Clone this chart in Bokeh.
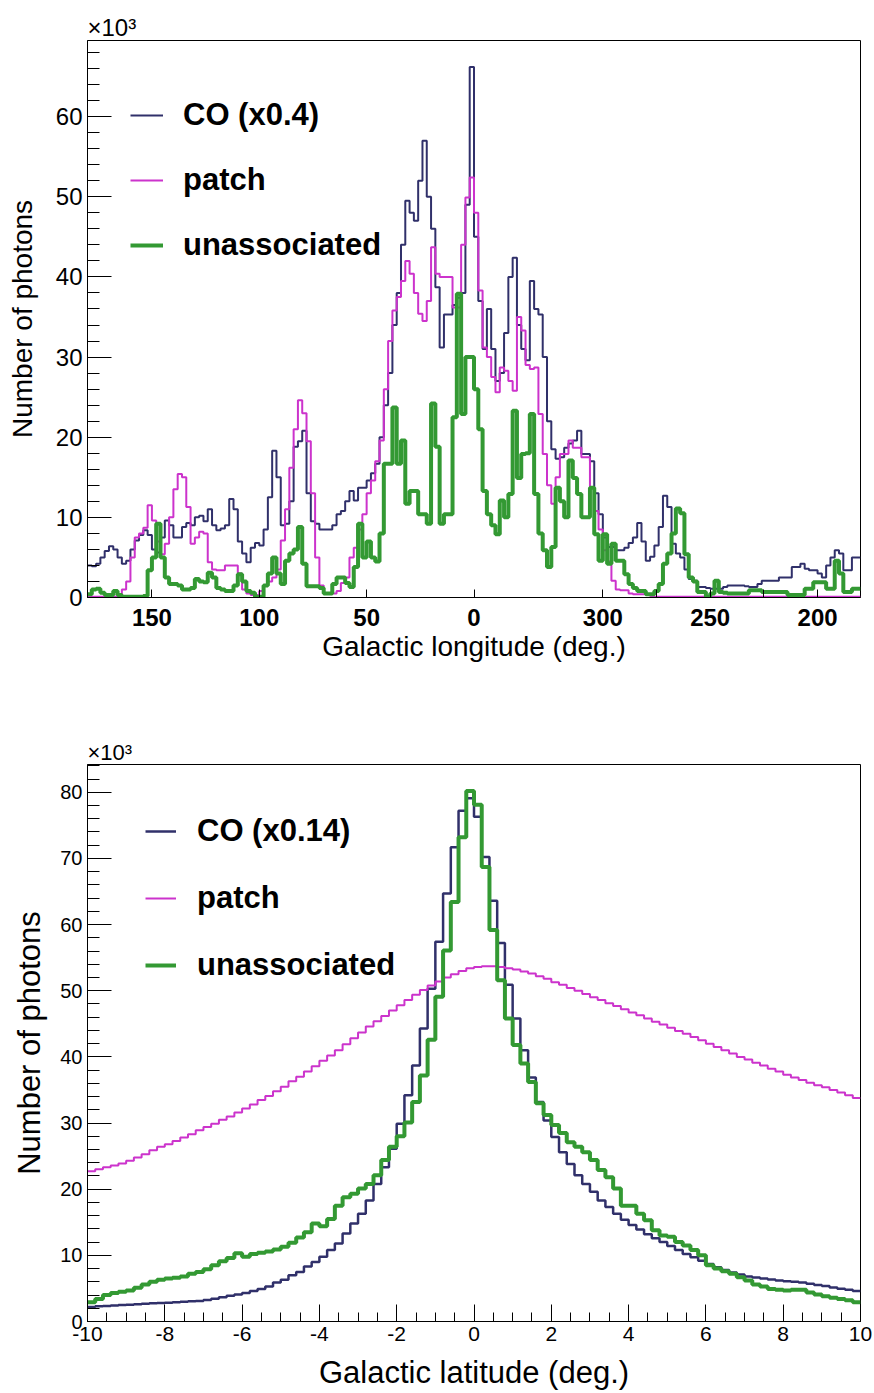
import numpy as np
from bokeh.plotting import figure
from bokeh.models import Range1d, FixedTicker, SingleIntervalTicker, Legend, LegendItem, Title
from bokeh.layouts import column
from bokeh.embed import file_html
from bokeh.resources import INLINE

# ---------------- data (thousands of photons) ----------------
# Longitude histogram: 2-degree bins running from l=180 down to l=-180 (=180)
lon_start = 180.0
lon_bin = -2.0
co_lon = [
    4.0, 3.9, 4.2, 5.0, 5.8, 6.4, 6.0, 5.0, 4.2, 4.6,
    6.0, 7.1, 7.8, 8.4, 7.8, 6.0, 5.6, 7.5, 9.6, 9.0,
    7.5, 7.5, 8.8, 9.3, 9.0, 10.0, 10.2, 9.5, 11.0, 9.0,
    8.4, 8.6, 9.0, 12.3, 11.0, 7.0, 5.5, 4.4, 6.2, 6.8,
    6.5, 8.5, 12.5, 18.3, 15.0, 9.0, 9.2, 12.0, 18.8, 19.5,
    20.8, 13.0, 9.5, 9.2, 8.5, 8.5, 8.5, 9.0, 10.4, 10.8,
    12.0, 13.3, 12.1, 13.7, 13.7, 14.6, 15.5, 16.7, 20.0, 24.0,
    28.0, 34.0, 38.0, 44.0, 49.5, 48.0, 47.0, 52.0, 57.0, 50.0,
    46.0, 38.7, 31.2, 35.3, 35.3, 36.5, 37.4, 38.0, 49.0, 66.2,
    45.0, 37.0, 31.0, 36.0, 31.0, 27.0, 28.0, 33.0, 40.0, 42.4,
    34.0, 31.0, 29.6, 39.5, 36.0, 35.3, 30.0, 22.0, 18.5, 17.3,
    17.5, 18.7, 19.2, 19.6, 20.8, 17.9, 17.9, 17.0, 13.0, 10.4,
    7.5, 6.3, 6.3, 5.9, 5.9, 6.2, 6.8, 7.5, 9.3, 7.0,
    4.6, 5.1, 6.5, 8.8, 12.7, 11.3, 6.7, 5.5, 5.0, 3.5,
    2.3, 2.1, 1.3, 1.3, 1.2, 1.1, 1.1, 1.1, 1.3, 1.5,
    1.5, 1.5, 1.5, 1.4, 1.3, 1.3, 1.7, 2.1, 2.1, 2.1,
    2.1, 2.5, 2.5, 2.5, 3.8, 3.8, 4.2, 3.6, 3.4, 3.4,
    3.0, 2.5, 4.0, 5.0, 5.9, 5.5, 3.4, 3.4, 5.0, 5.0,
]
patch_lon = [
    0.1, 0.1, 0.1, 0.1, 0.1, 0.1, 0.1, 0.1, 1.0, 2.0,
    5.0, 7.5, 8.0, 8.7, 11.5, 9.6, 7.0, 5.4, 6.7, 10.0,
    13.5, 15.4, 15.0, 11.3, 6.7, 7.5, 8.2, 8.0, 4.4, 3.5,
    3.4, 3.4, 4.0, 4.0, 4.0, 3.0, 1.0, 0.5, 0.3, 0.3,
    0.8, 1.5, 2.0, 2.5, 3.5, 7.1, 11.0, 16.2, 21.0, 24.6,
    23.0, 19.5, 13.0, 5.0, 1.5, 0.5, 0.5, 0.5, 0.8, 1.8,
    2.5, 5.0, 6.2, 8.5, 10.4, 13.0, 14.6, 17.0, 19.6, 26.0,
    32.0, 35.8, 37.5, 39.5, 42.0, 40.4, 38.0, 35.4, 34.5, 37.0,
    43.7, 40.4, 40.0, 40.0, 40.0, 36.2, 36.2, 44.0, 49.9, 52.4,
    48.0, 38.3, 31.2, 30.0, 27.5, 25.6, 28.7, 28.3, 27.0, 25.8,
    35.0, 33.3, 29.0, 28.5, 28.7, 22.9, 17.9, 14.0, 11.7, 15.0,
    17.9, 17.9, 19.6, 18.7, 18.7, 17.5, 17.5, 13.7, 10.8, 8.5,
    5.9, 4.5, 2.1, 1.0, 0.9, 0.9, 0.5, 0.4, 0.4, 0.4,
    0.3, 0.2, 0.1, 0.1, 0.1, 0.1, 0.1, 0.1, 0.1, 0.1,
    0.1, 0.1, 0.1, 0.1, 0.1, 0.1, 0.1, 0.1, 0.1, 0.1,
    0.1, 0.1, 0.1, 0.1, 0.1, 0.1, 0.1, 0.1, 0.1, 0.1,
    0.1, 0.1, 0.1, 0.1, 0.1, 0.1, 0.1, 0.1, 0.1, 0.1,
    0.1, 0.1, 0.1, 0.1, 0.1, 0.1, 0.1, 0.1, 0.1, 0.1,
]
unassoc_lon = [
    0.4, 1.0, 1.1, 0.6, 0.3, 0.3, 0.8, 0.3, 0.1, 0.1,
    0.1, 0.1, 0.1, 0.2, 3.4, 5.0, 9.2, 5.0, 2.5, 1.7,
    1.7, 1.5, 1.0, 1.0, 1.2, 2.3, 2.0, 1.9, 3.1, 2.5,
    1.2, 1.0, 0.8, 0.8, 1.5, 2.9, 2.0, 0.8, 0.6, 0.1,
    0.1, 1.5, 3.0, 5.0, 3.0, 1.7, 4.6, 5.5, 6.0, 8.8,
    4.2, 1.4, 1.4, 1.4, 1.2, 0.5, 0.5, 1.7, 2.5, 2.5,
    1.8, 1.3, 3.8, 9.2, 5.0, 7.0, 5.0, 4.5, 8.0, 16.7,
    16.7, 23.7, 16.7, 19.6, 11.7, 13.3, 13.3, 10.4, 10.4, 9.2,
    24.2, 18.8, 9.2, 10.4, 10.4, 22.5, 37.9, 22.9, 30.0, 30.0,
    26.0, 21.0, 13.3, 10.4, 9.0, 7.9, 12.1, 10.0, 12.9, 23.3,
    14.9, 17.9, 18.0, 22.9, 12.9, 8.0, 5.9, 3.8, 6.3, 13.7,
    12.0, 10.0, 17.1, 14.9, 12.9, 10.0, 10.0, 13.7, 7.9, 4.6,
    7.9, 4.2, 6.7, 4.6, 4.6, 2.9, 1.7, 1.2, 0.8, 0.8,
    0.4, 0.4, 0.8, 1.7, 4.2, 5.5, 8.0, 11.1, 10.5, 5.4,
    2.5, 2.0, 0.7, 0.7, 0.1, 0.5, 2.1, 0.7, 0.6, 0.5,
    0.5, 0.5, 0.5, 0.5, 0.9, 0.9, 0.9, 0.7, 0.7, 0.7,
    0.7, 0.7, 0.7, 0.3, 0.3, 0.3, 0.3, 1.1, 1.1, 1.9,
    1.9, 1.9, 1.1, 1.1, 4.6, 3.0, 0.7, 0.7, 1.1, 1.1,
]
lon_ticks = [150, 100, 50, 0, -60, -85, -110, -135, -160]
lon_tick_labels = ["150", "100", "50", "0", "300", "", "250", "", "200"]

# Latitude histogram: 0.2-degree bins from -10 to 10
lat_start = -10.0
lat_bin = 0.2
co_lat = [
    2.2, 2.3, 2.35, 2.4, 2.5, 2.55, 2.6, 2.7, 2.75, 2.8,
    2.85, 2.9, 3.0, 3.05, 3.1, 3.25, 3.45, 3.65, 3.9, 4.1,
    4.3, 4.6, 4.9, 5.3, 5.9, 6.3, 7.0, 7.5, 8.3, 9.0,
    9.8, 10.8, 11.8, 13.3, 14.8, 16.3, 18.3, 20.8, 23.3, 26.1,
    29.9, 34.2, 38.7, 44.3, 50.3, 57.4, 64.7, 71.7, 77.2, 79.1,
    76.3, 70.2, 63.6, 57.2, 50.9, 45.8, 41.0, 36.9, 33.2, 30.4,
    27.9, 25.6, 23.8, 22.1, 20.8, 19.6, 18.3, 17.3, 16.3, 15.4,
    14.6, 13.9, 13.2, 12.6, 12.0, 11.4, 10.8, 10.2, 9.7, 9.2,
    8.7, 8.2, 7.8, 7.4, 7.1, 6.8, 6.65, 6.5, 6.35, 6.2,
    6.1, 6.0, 5.9, 5.7, 5.5, 5.35, 5.15, 4.95, 4.8, 4.6,
]
patch_lat = [
    22.7, 23.0, 23.3, 23.6, 23.9, 24.3, 24.8, 25.3, 25.9, 26.4,
    26.8, 27.3, 27.8, 28.3, 28.9, 29.4, 29.9, 30.5, 31.0, 31.6,
    32.2, 32.8, 33.5, 34.1, 34.8, 35.5, 36.3, 37.0, 37.8, 38.6,
    39.4, 40.2, 41.0, 41.9, 42.8, 43.7, 44.6, 45.4, 46.2, 47.0,
    47.8, 48.6, 49.4, 50.1, 50.8, 51.4, 52.0, 52.5, 53.0, 53.4,
    53.6, 53.7, 53.7, 53.6, 53.4, 53.2, 52.9, 52.6, 52.2, 51.8,
    51.3, 50.9, 50.4, 50.0, 49.5, 49.0, 48.6, 48.1, 47.7, 47.2,
    46.7, 46.3, 45.8, 45.3, 44.9, 44.4, 43.9, 43.5, 43.0, 42.5,
    42.0, 41.5, 41.0, 40.5, 40.0, 39.6, 39.1, 38.7, 38.2, 37.8,
    37.3, 36.9, 36.5, 36.1, 35.7, 35.4, 35.0, 34.6, 34.2, 33.8,
]
unassoc_lat = [
    2.9, 3.4, 4.0, 4.3, 4.5, 4.7, 5.1, 5.6, 6.0, 6.3,
    6.5, 6.6, 6.8, 7.2, 7.5, 7.9, 8.5, 9.1, 9.6, 10.3,
    9.8, 10.2, 10.4, 10.6, 10.9, 11.3, 11.9, 12.7, 13.5, 14.8,
    14.4, 15.5, 17.5, 18.8, 19.3, 20.1, 20.8, 22.1, 24.4, 26.4,
    28.0, 30.1, 33.2, 37.2, 42.6, 49.1, 56.1, 63.4, 73.2, 80.2,
    78.1, 68.7, 59.2, 51.6, 45.8, 41.8, 39.0, 36.2, 33.0, 31.2,
    29.7, 28.5, 27.1, 26.4, 25.6, 24.4, 22.9, 21.8, 20.1, 17.5,
    17.5, 16.3, 15.3, 13.8, 13.0, 12.8, 12.0, 11.5, 10.8, 10.0,
    8.5, 8.0, 7.6, 7.2, 6.7, 6.2, 5.6, 5.3, 4.9, 4.8,
    4.7, 4.8, 4.8, 4.4, 4.1, 3.8, 3.6, 3.4, 3.2, 2.9,
]
lat_ticks = [-10, -8, -6, -4, -2, 0, 2, 4, 6, 8, 10]
lat_tick_labels = ["-10", "-8", "-6", "-4", "-2", "0", "2", "4", "6", "8", "10"]

CO_COLOR = "#30306a"
PATCH_COLOR = "#cc33cc"
GREEN_COLOR = "#339933"
FONT = "Liberation Sans"


def steps(start, width, vals):
    v = np.asarray(vals, dtype=float)
    edges = start + width * np.arange(len(v) + 1)
    xs = np.repeat(edges, 2)[1:-1]
    ys = np.repeat(v, 2)
    return xs, ys


def style(p, ytick_px, ylab_px, xlab_px, ylab_standoff, xlab_standoff):
    p.background_fill_color = "white"
    p.border_fill_color = "white"
    p.outline_line_color = "black"
    p.outline_line_width = 1
    p.xgrid.visible = False
    p.ygrid.visible = False
    for ax in (p.xaxis[0], p.yaxis[0]):
        ax.axis_line_color = "black"
        ax.axis_line_width = 1
        ax.major_tick_line_color = "black"
        ax.minor_tick_line_color = "black"
        ax.major_tick_out = 0
        ax.minor_tick_out = 0
        ax.major_label_text_font = FONT
        ax.axis_label_text_font = FONT
        ax.axis_label_text_font_style = "normal"
        ax.axis_label_text_color = "black"
        ax.major_label_text_color = "black"
        ax.major_label_standoff = 5
    p.yaxis[0].major_tick_in = 24
    p.yaxis[0].minor_tick_in = 12
    p.yaxis[0].major_label_text_font_size = ytick_px
    p.yaxis[0].axis_label_text_font_size = ylab_px
    p.xaxis[0].axis_label_text_font_size = xlab_px
    p.yaxis[0].axis_label_standoff = ylab_standoff
    p.xaxis[0].axis_label_standoff = xlab_standoff


def legend(items, loc, spacing, glyph_w, standoff):
    lg = Legend(items=items, location=loc, orientation="vertical")
    lg.border_line_color = None
    lg.background_fill_alpha = 0
    lg.padding = 0
    lg.margin = 0
    lg.spacing = spacing
    lg.glyph_width = glyph_w
    lg.glyph_height = 36
    lg.label_height = 36
    lg.label_standoff = standoff
    lg.label_text_font = FONT
    lg.label_text_font_size = "31px"
    lg.label_text_font_style = "bold"
    lg.label_text_color = "black"
    return lg


# ---------------- top: longitude ----------------
p1 = figure(width=874, height=700, output_backend="svg", toolbar_location=None,
            x_range=Range1d(180, -180), y_range=Range1d(0, 69.5),
            min_border_left=87, min_border_right=14, min_border_top=40, min_border_bottom=103,
            x_axis_label="Galactic longitude (deg.)", y_axis_label="Number of photons")
p1.title = Title(text="\u00d710\u00b3", align="left", offset=0, standoff=0,
                 text_font=FONT, text_font_size="24px", text_font_style="normal", text_color="black")
style(p1, "24px", "28px", "28px", 15, 2)
p1.yaxis[0].ticker = SingleIntervalTicker(interval=10, num_minor_ticks=5)
p1.xaxis[0].ticker = FixedTicker(ticks=lon_ticks, minor_ticks=[])
p1.xaxis[0].major_label_overrides = {float(t): s for t, s in zip(lon_ticks, lon_tick_labels)}
p1.xaxis[0].major_tick_in = 8
p1.xaxis[0].minor_tick_in = 0
p1.xaxis[0].major_label_standoff = 11
p1.xaxis[0].major_label_text_font_size = "24px"
p1.xaxis[0].major_label_text_font_style = "bold"

x, y = steps(lon_start, lon_bin, co_lon)
r_co1 = p1.line(x, y, line_color=CO_COLOR, line_width=2)
x, y = steps(lon_start, lon_bin, patch_lon)
r_pa1 = p1.line(x, y, line_color=PATCH_COLOR, line_width=2)
x, y = steps(lon_start, lon_bin, unassoc_lon)
r_un1 = p1.line(x, y, line_color=GREEN_COLOR, line_width=4)

p1.add_layout(legend([LegendItem(label="CO (x0.4)", renderers=[r_co1]),
                      LegendItem(label="patch", renderers=[r_pa1]),
                      LegendItem(label="unassociated", renderers=[r_un1])],
                     (43, 334), 29, 33, 20))

# ---------------- bottom: latitude ----------------
p2 = figure(width=874, height=693, output_backend="svg", toolbar_location=None,
            x_range=Range1d(-10, 10), y_range=Range1d(0, 84.2),
            min_border_left=87, min_border_right=14, min_border_top=64, min_border_bottom=72,
            x_axis_label="Galactic latitude (deg.)", y_axis_label="Number of photons")
p2.title = Title(text="\u00d710\u00b3", align="left", offset=0, standoff=0,
                 text_font=FONT, text_font_size="22px", text_font_style="normal", text_color="black")
style(p2, "20px", "31px", "31px", 10, 11)
p2.yaxis[0].ticker = SingleIntervalTicker(interval=10, num_minor_ticks=5)
p2.xaxis[0].ticker = SingleIntervalTicker(interval=2, num_minor_ticks=4)
p2.xaxis[0].major_label_overrides = {float(t): s for t, s in zip(lat_ticks, lat_tick_labels)}
p2.xaxis[0].major_tick_in = 17
p2.xaxis[0].minor_tick_in = 9
p2.xaxis[0].major_label_text_font_size = "21px"

x, y = steps(lat_start, lat_bin, co_lat)
r_co2 = p2.line(x, y, line_color=CO_COLOR, line_width=2.5)
x, y = steps(lat_start, lat_bin, patch_lat)
r_pa2 = p2.line(x, y, line_color=PATCH_COLOR, line_width=2)
x, y = steps(lat_start, lat_bin, unassoc_lat)
r_un2 = p2.line(x, y, line_color=GREEN_COLOR, line_width=4)

p2.add_layout(legend([LegendItem(label="CO (x0.14)", renderers=[r_co2]),
                      LegendItem(label="patch", renderers=[r_pa2]),
                      LegendItem(label="unassociated", renderers=[r_un2])],
                     (58, 338), 31, 31, 21))

layout = column(p1, p2)
open("out.html", "w").write(file_html(layout, INLINE))
